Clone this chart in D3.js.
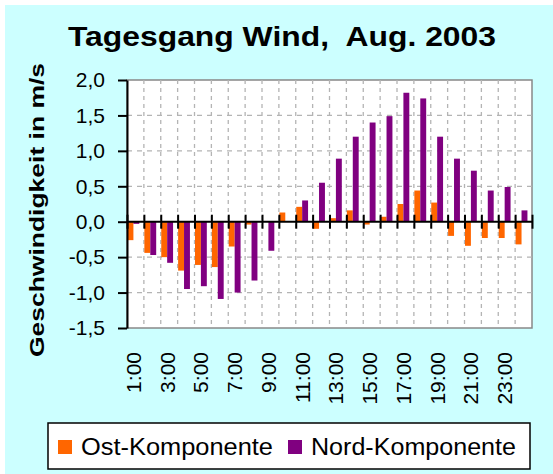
<!DOCTYPE html>
<html>
<head>
<meta charset="utf-8">
<script src="https://cdn.jsdelivr.net/npm/d3@7"></script>
<style>
  body { margin: 0; background: #fff; }
  svg { display: block; font-family: "Liberation Sans", Arial, sans-serif; }
</style>
</head>
<body>
<script>

var hours = ["1:00","2:00","3:00","4:00","5:00","6:00","7:00","8:00","9:00","10:00","11:00","12:00",
             "13:00","14:00","15:00","16:00","17:00","18:00","19:00","20:00","21:00","22:00","23:00","24:00"];
var ost  = [-0.26,-0.44,-0.50,-0.69,-0.61,-0.64,-0.35,-0.04, 0.00, 0.13, 0.21,-0.10,
             0.05, 0.16,-0.04, 0.07, 0.25, 0.44, 0.27,-0.20,-0.34,-0.23,-0.23,-0.32];
var nord = [-0.03,-0.47,-0.58,-0.95,-0.91,-1.09,-1.00,-0.83,-0.41, 0.00, 0.30, 0.55,
             0.89, 1.20, 1.40, 1.49, 1.82, 1.74, 1.20, 0.89, 0.72, 0.44, 0.49, 0.16];
var yTicks = [-1.5,-1.0,-0.5,0.0,0.5,1.0,1.5,2.0];
var seriesNames = ["Ost-Komponente","Nord-Komponente"];
var colors = ["#ff6600","#800080"];

var width = 553, height = 474;
var margin = {left:127, right:21, top:80, bottom:146};

var svg = d3.select("body").append("svg").attr("width",width).attr("height",height);

// chart area
svg.append("rect")
    .attr("x",5).attr("y",5)
    .attr("width",width-5).attr("height",height-5)
    .attr("fill","#ccffff");

var x = d3.scaleBand()
    .domain(hours)
    .range([margin.left, width-margin.right]);

var x1 = d3.scaleBand()
    .domain(seriesNames)
    .range([0.5, x.bandwidth()*0.7+0.5]);

var y = d3.scaleLinear()
    .domain([-1.5,2])
    .range([height-margin.bottom, margin.top]);

var loc = d3.formatLocale({decimal:",", thousands:".", grouping:[3], currency:["","€"], minus:"-"});
var fmt = loc.format(".1f");

// plot area
svg.append("rect")
    .attr("x",margin.left).attr("y",margin.top)
    .attr("width",width-margin.right-margin.left)
    .attr("height",height-margin.bottom-margin.top)
    .attr("fill","white")
    .attr("stroke","#888")
    .attr("stroke-width",1.5);

// grid
var bounds = hours.map(function(h){ return x(h); }).slice(1);
svg.append("g").selectAll("line")
    .data(bounds)
    .enter().append("line")
    .attr("x1",function(d){ return d; }).attr("x2",function(d){ return d; })
    .attr("y1",margin.top).attr("y2",height-margin.bottom)
    .attr("stroke","#b4b4b4").attr("stroke-width",1.3)
    .attr("stroke-dasharray","4,4");

svg.append("g").selectAll("line")
    .data(yTicks.filter(function(d){ return d!==0 && d!==2 && d!==-1.5; }))
    .enter().append("line")
    .attr("x1",margin.left).attr("x2",width-margin.right)
    .attr("y1",function(d){ return y(d); }).attr("y2",function(d){ return y(d); })
    .attr("stroke","#b4b4b4").attr("stroke-width",1.3)
    .attr("stroke-dasharray","5,5");

// bars
var groups = svg.append("g").selectAll("g")
    .data(hours)
    .enter().append("g")
    .attr("transform",function(d){ return "translate("+x(d)+",0)"; });

groups.selectAll("rect")
    .data(function(d,i){ return [{s:seriesNames[0],v:ost[i]},{s:seriesNames[1],v:nord[i]}]; })
    .enter().append("rect")
    .attr("x",function(d){ return x1(d.s); })
    .attr("width",x1.bandwidth())
    .attr("y",function(d){ return y(Math.max(0,d.v)); })
    .attr("height",function(d){ return Math.abs(y(d.v)-y(0)); })
    .attr("fill",function(d,i){ return colors[i]; });

// zero axis with crossing ticks
var xb = d3.scalePoint().domain(d3.range(hours.length+1)).range([margin.left, width-margin.right]);
svg.append("g")
    .attr("transform","translate(0,"+(y(0)-7)+")")
    .call(d3.axisBottom(xb).tickSize(14).tickFormat("").tickSizeOuter(0))
    .call(function(g){
        g.select(".domain").remove();
        g.selectAll("line").attr("stroke","#000").attr("stroke-width",2);
    });
svg.append("line")
    .attr("x1",margin.left).attr("x2",width-margin.right)
    .attr("y1",y(0)).attr("y2",y(0))
    .attr("stroke","#000").attr("stroke-width",2);

// y axis
svg.append("g")
    .attr("transform","translate("+margin.left+",0)")
    .call(d3.axisLeft(y).tickValues(yTicks).tickFormat(fmt).tickSize(9).tickSizeOuter(0).tickPadding(13))
    .call(function(g){
        g.select(".domain").attr("stroke","#000").attr("stroke-width",2);
        g.selectAll("line").attr("stroke","#000").attr("stroke-width",2);
        g.selectAll("text").attr("font-size",21).attr("fill","#000")
            .attr("font-family","'Liberation Sans', Arial, sans-serif");
    });

// x labels
svg.append("g")
    .attr("transform","translate(0,"+(height-margin.bottom)+")")
    .call(d3.axisBottom(x).tickValues(hours.filter(function(d,i){ return i%2===0; })).tickSize(0))
    .call(function(g){
        g.select(".domain").remove();
        g.selectAll("text")
            .attr("font-size",21).attr("fill","#000")
            .attr("font-family","'Liberation Sans', Arial, sans-serif")
            .attr("text-anchor","end")
            .attr("dy","0.35em")
            .attr("transform","translate(-2,24) rotate(-90)")
            .attr("y",0).attr("x",0);
    });

// title
svg.append("text")
    .attr("x",282).attr("y",46)
    .attr("text-anchor","middle")
    .attr("font-size",27).attr("font-weight","bold")
    .attr("textLength",428).attr("lengthAdjust","spacingAndGlyphs")
    .text("Tagesgang Wind,\u00a0 Aug. 2003");

// y title
svg.append("text")
    .attr("transform","translate(44,210) rotate(-90)")
    .attr("text-anchor","middle")
    .attr("font-size",21).attr("font-weight","bold")
    .attr("textLength",294).attr("lengthAdjust","spacingAndGlyphs")
    .text("Geschwindigkeit in m/s");

// legend
var legend = svg.append("g");
legend.append("rect")
    .attr("x",48).attr("y",423).attr("width",482).attr("height",46)
    .attr("fill","white").attr("stroke","#000").attr("stroke-width",1.5);
var legX = [58, 288];
var legLen = [192, 205];
seriesNames.forEach(function(name,i){
    legend.append("rect")
        .attr("x",legX[i]).attr("y",440).attr("width",14).attr("height",14)
        .attr("fill",colors[i]);
    legend.append("text")
        .attr("x",legX[i]+23).attr("y",455)
        .attr("font-size",23)
        .attr("textLength",legLen[i]).attr("lengthAdjust","spacingAndGlyphs")
        .text(name);
});

</script>
</body>
</html>
